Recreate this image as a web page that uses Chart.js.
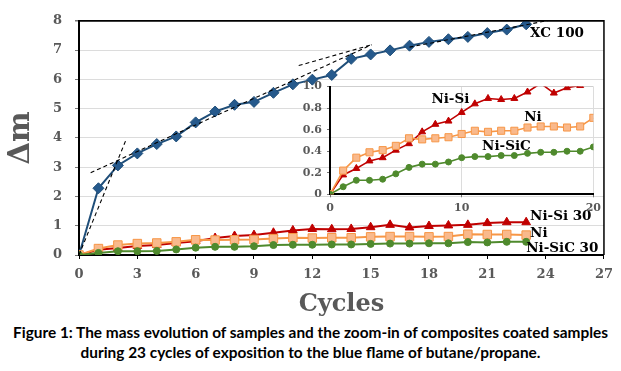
<!DOCTYPE html>
<html>
<head>
<meta charset="utf-8">
<script src="https://cdn.jsdelivr.net/npm/chart.js@4.4.1/dist/chart.umd.min.js"></script>
<style>
  body { margin: 0; background: #fff; width: 621px; height: 371px; overflow: hidden; position: relative; }
  #main { position: absolute; left: 0; top: 0; }
  #inset { position: absolute; left: 295px; top: 75px; }
  #caption {
    position: absolute; left: 0; top: 322px; width: 621px;
    text-align: center; font-family: Lato, "Noto Sans", sans-serif; font-weight: bold;
    font-size: 15.4px; line-height: 20px; color: #000; white-space: nowrap;
  }
</style>
</head>
<body>
<canvas id="main" width="621" height="320"></canvas>
<canvas id="inset" width="310" height="140"></canvas>
<div id="caption">Figure 1: The mass evolution of samples and the zoom-in of composites coated samples<br>during 23 cycles of exposition to the blue flame of butane/propane.</div>
<script>
// data
const cycles = [0,1,2,3,4,5,6,7,8,9,10,11,12,13,14,15,16,17,18,19,20,21,22,23];
const xc100 = [0,2.28,3.06,3.47,3.79,4.05,4.53,4.90,5.13,5.23,5.54,5.83,5.99,6.15,6.70,6.85,6.99,7.15,7.28,7.37,7.45,7.58,7.70,7.88];
const niSi  = [0,0.18,0.24,0.31,0.34,0.41,0.47,0.58,0.65,0.68,0.76,0.84,0.89,0.88,0.89,0.95,1.03,0.94,0.99,1.01,1.03,1.09,1.12,1.12];
const ni    = [0,0.22,0.34,0.39,0.41,0.45,0.52,0.51,0.52,0.53,0.56,0.59,0.58,0.59,0.59,0.62,0.63,0.63,0.62,0.63,0.71,0.70,0.70,0.68];
const niSiC = [0,0.07,0.13,0.13,0.14,0.19,0.25,0.28,0.28,0.30,0.34,0.35,0.35,0.36,0.36,0.38,0.39,0.39,0.40,0.40,0.44,0.43,0.45,0.45];

// dashed tangent lines (start, end) in cycles / Δm
const tangentA = [[0,0],[2.44,3.97]];
const tangentB = [[0.6,2.81],[15.05,7.18]];
const tangentC = [[11.3,6.47],[15.05,7.18]];
const tangentD = [[17,7.1],[25,8.12]];

const xTicksMain = [0,27,3];   // min, max, step
const yTicksMain = [0,8,1];
const xTicksInset = [0,20,10];
const yTicksInset = [0,1,0.2];

const mainLabels = [
  {text:'XC 100', x:23.2, y:7.46},
  {text:'Ni-Si 30', x:23.2, y:1.18},
  {text:'Ni', x:23.2, y:0.63},
  {text:'Ni-SiC 30', x:23.0, y:0.11}
];
const insetLabels = [
  {text:'Ni-Si', x:7.7, y:0.85},
  {text:'Ni', x:14.75, y:0.68},
  {text:'Ni-SiC', x:11.55, y:0.41}
];

const RED = '#c00000', ORANGE = '#f79646', ORANGE_FILL = '#f9b98c', GREEN = '#4f8a2d', BLUE = '#1f4e79';
const SERIF = '"DejaVu Serif", "Liberation Serif", serif';
const GREY = '#595959';

const pts = (ys) => cycles.map((c, i) => ({x: c, y: ys[i]}));
const seg = (p) => p.map(q => ({x: q[0], y: q[1]}));

const textLabels = {
  id: 'textLabels',
  afterDatasetsDraw(chart, args, opts) {
    const ctx = chart.ctx;
    ctx.save();
    ctx.font = 'bold ' + opts.size + 'px ' + SERIF;
    ctx.fillStyle = '#000';
    ctx.textBaseline = 'alphabetic';
    ctx.textAlign = 'left';
    opts.items.forEach(it => {
      ctx.fillText(it.text, chart.scales.x.getPixelForValue(it.x), chart.scales.y.getPixelForValue(it.y));
    });
    if (opts.frame) {
      const a = chart.chartArea;
      ctx.strokeStyle = '#000';
      ctx.lineWidth = 1.5;
      ctx.beginPath();
      ctx.moveTo(a.left, a.top);
      ctx.lineTo(a.right, a.top);
      ctx.lineTo(a.right, a.bottom);
      ctx.stroke();
    }
    ctx.restore();
  }
};

function seriesSet(label, ys, color, fill, style, r, w) {
  return {
    label: label, data: pts(ys), borderColor: color, backgroundColor: fill,
    pointStyle: style, pointRadius: r, pointBorderColor: color, pointBackgroundColor: fill,
    pointBorderWidth: 1, borderWidth: w, tension: 0
  };
}
function dashSet(p) {
  return { data: seg(p), borderColor: '#000', borderWidth: 1.1, borderDash: [4,3], pointRadius: 0, tension: 0 };
}

new Chart(document.getElementById('main'), {
  type: 'line',
  data: {
    datasets: [
      dashSet(tangentA), dashSet(tangentB), dashSet(tangentC), dashSet(tangentD),
      seriesSet('Ni-SiC 30', niSiC, GREEN, GREEN, 'circle', 3.5, 2),
      seriesSet('Ni', ni, ORANGE, ORANGE_FILL, 'rect', 6, 2),
      seriesSet('Ni-Si 30', niSi, RED, RED, 'triangle', 5, 2),
      seriesSet('XC 100', xc100, BLUE, '#25598c', 'rectRot', 5.5, 2)
    ]
  },
  options: {
    responsive: false,
    animation: false,
    layout: { padding: { top: 13, right: 16, left: 0, bottom: 0 } },
    plugins: {
      legend: { display: false },
      tooltip: { enabled: false },
      textLabels: { items: mainLabels, size: 13.5, frame: true }
    },
    scales: {
      x: {
        type: 'linear', min: xTicksMain[0], max: xTicksMain[1],
        afterFit: s => { s.height = 65; },
        ticks: { stepSize: xTicksMain[2], color: GREY, padding: 8, font: { family: SERIF, size: 13, weight: 'bold' } },
        grid: { drawOnChartArea: false, tickLength: 4, tickColor: '#000' },
        border: { color: '#000', width: 2 },
        title: { display: true, text: 'Cycles', color: GREY, padding: { top: 0, bottom: 1 },
                 font: { family: SERIF, size: 24, weight: 'bold', lineHeight: 1.2 } }
      },
      y: {
        min: yTicksMain[0], max: yTicksMain[1],
        afterFit: s => { s.width = 79; },
        ticks: { stepSize: yTicksMain[2], color: GREY, padding: 13, font: { family: SERIF, size: 13, weight: 'bold' } },
        grid: {
          color: c => (c.tick && c.tick.value === yTicksMain[1]) ? '#000' : '#dcdcdc',
          lineWidth: c => (c.tick && c.tick.value === yTicksMain[1]) ? 1.5 : 1,
          tickLength: 4, tickColor: '#777'
        },
        border: { color: '#000', width: 2 },
        title: { display: true, text: 'Δm', color: GREY, padding: { top: 4, bottom: 0 },
                 font: { family: SERIF, size: 29, weight: 'bold', lineHeight: 1.2 } }
      }
    }
  },
  plugins: [textLabels]
});

new Chart(document.getElementById('inset'), {
  type: 'line',
  data: {
    datasets: [
      seriesSet('Ni-SiC', niSiC, GREEN, GREEN, 'circle', 3, 1.6),
      seriesSet('Ni', ni, ORANGE, ORANGE_FILL, 'rect', 5, 1.6),
      seriesSet('Ni-Si', niSi, RED, RED, 'triangle', 4, 1.6)
    ]
  },
  options: {
    responsive: false,
    animation: false,
    layout: { padding: { top: 6.5, right: 8, left: 0, bottom: 0 } },
    plugins: {
      legend: { display: false },
      tooltip: { enabled: false },
      textLabels: { items: insetLabels, size: 13.5, frame: false }
    },
    scales: {
      x: {
        type: 'linear', min: xTicksInset[0], max: xTicksInset[1],
        afterFit: s => { s.height = 20.7; },
        ticks: { stepSize: xTicksInset[2], color: GREY, padding: 4, font: { family: SERIF, size: 11, weight: 'bold' } },
        grid: { color: '#dcdcdc', tickLength: 3, tickColor: '#777' },
        border: { color: '#000', width: 2 }
      },
      y: {
        min: yTicksInset[0], max: yTicksInset[1],
        afterFit: s => { s.width = 35; },
        ticks: { stepSize: yTicksInset[2], color: GREY, padding: 5, font: { family: SERIF, size: 11, weight: 'bold' } },
        grid: {
          color: c => (c.tick && c.tick.value === yTicksInset[1]) ? '#cfcfcf' : 'rgba(0,0,0,0)',
          tickLength: 3, tickColor: '#777'
        },
        border: { color: '#000', width: 2 }
      }
    }
  },
  plugins: [textLabels]
});
</script>
</body>
</html>
